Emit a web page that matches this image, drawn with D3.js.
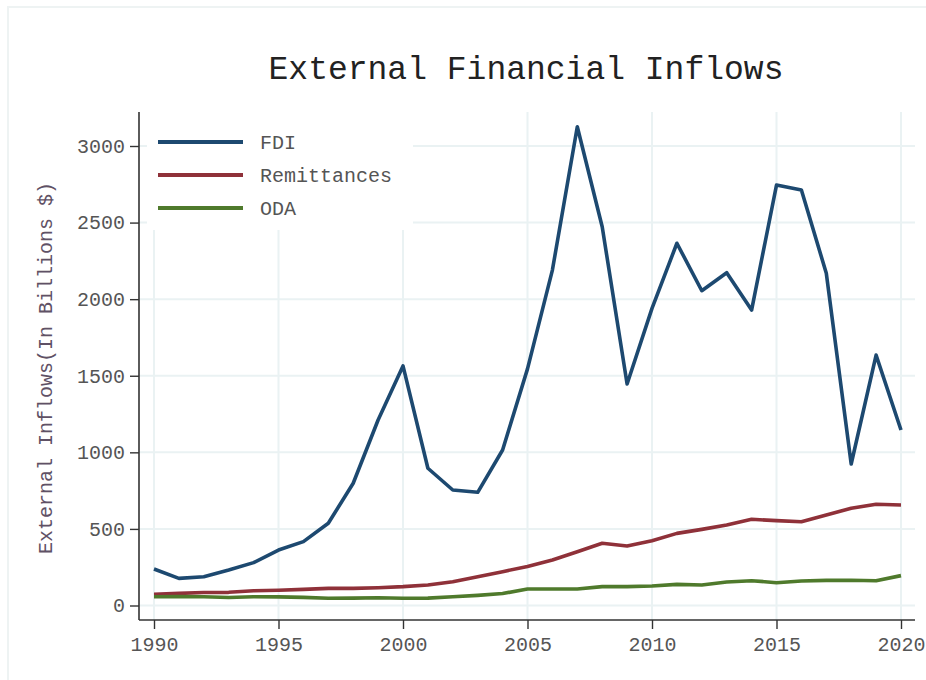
<!DOCTYPE html>
<html>
<head>
<meta charset="utf-8">
<script src="https://cdn.jsdelivr.net/npm/d3@7"></script>
<style>
  html, body { margin: 0; padding: 0; background: #fff; }
  svg { display: block; }
  text { font-family: "Liberation Mono", "DejaVu Sans Mono", monospace; }
</style>
</head>
<body>
<svg id="chart" width="926" height="680"></svg>
<script>
const years = d3.range(1990, 2021);
const fdi = [238, 177, 188, 232, 280, 362, 417, 537, 798, 1211, 1564, 896, 754, 739, 1015,
  1545, 2190, 3126, 2473, 1446, 1940, 2365, 2055, 2173, 1929, 2745, 2713, 2169, 924, 1635, 1146];
const remittances = [73, 79, 85, 86, 96, 100, 105, 112, 112, 116, 123, 134, 155, 188, 221,
  255, 297, 351, 406, 388, 423, 471, 497, 526, 563, 554, 547, 591, 635, 661, 656];
const oda = [57, 58, 57, 52, 57, 56, 53, 47, 48, 51, 47, 48, 57, 66, 78,
  108, 108, 108, 123, 123, 127, 138, 134, 153, 162, 149, 160, 164, 165, 162, 195];
const seriesNames = ["FDI", "Remittances", "ODA"];
const seriesColors = ["#1d4970", "#8f3139", "#4f7a2c"];
const seriesValues = [fdi, remittances, oda];
const yTicks = [0, 500, 1000, 1500, 2000, 2500, 3000];
const xTicks = [1990, 1995, 2000, 2005, 2010, 2015, 2020];

const svg = d3.select("#chart");

// outer light frame
svg.append("rect").attr("x", 8).attr("y", 7).attr("width", 940).attr("height", 700)
  .attr("fill", "none").attr("stroke", "#eef3f3").attr("stroke-width", 2);

const x = d3.scaleLinear().domain([1990, 2020]).range([154, 901]);
const y = d3.scaleLinear().domain([0, 3000]).range([605.5, 146]);
const plotLeft = 139, plotRight = 915, plotTop = 112, plotBottom = 620;

// grid
const grid = svg.append("g");
grid.selectAll("line.h").data(yTicks).join("line")
  .attr("x1", plotLeft).attr("x2", plotRight)
  .attr("y1", d => y(d)).attr("y2", d => y(d))
  .attr("stroke", "#eaf2f3").attr("stroke-width", 2);
grid.selectAll("line.v").data(xTicks).join("line")
  .attr("x1", d => x(d)).attr("x2", d => x(d))
  .attr("y1", plotTop).attr("y2", plotBottom)
  .attr("stroke", "#eaf2f3").attr("stroke-width", 2);

// legend background
svg.append("rect").attr("x", 147).attr("y", 112).attr("width", 266).attr("height", 118)
  .attr("fill", "#fff");

// lines
const line = d3.line().x((d, i) => x(years[i])).y(d => y(d));
seriesValues.forEach((vals, k) => {
  svg.append("path").datum(vals)
    .attr("d", line)
    .attr("fill", "none")
    .attr("stroke", seriesColors[k])
    .attr("stroke-width", 3.6)
    .attr("stroke-linejoin", "round");
});

// axes
const yAxis = d3.axisLeft(y).tickValues(yTicks).tickSize(9).tickPadding(5).tickFormat(d3.format("d"));
const gy = svg.append("g").attr("transform", `translate(${plotLeft},0)`).call(yAxis);
gy.select(".domain").attr("d", `M0,${plotTop}V${plotBottom}`).attr("stroke", "#333").attr("stroke-width", 1.6);
gy.selectAll(".tick line").attr("stroke", "#333").attr("stroke-width", 1.4);
gy.selectAll(".tick text").attr("font-size", 20).attr("fill", "#555")
  .attr("font-family", "Liberation Mono, monospace");

const xAxis = d3.axisBottom(x).tickValues(xTicks).tickSize(9).tickPadding(8).tickFormat(d3.format("d"));
const gx = svg.append("g").attr("transform", `translate(0,${plotBottom})`).call(xAxis);
gx.select(".domain").attr("d", `M${plotLeft},0H${plotRight}`).attr("stroke", "#333").attr("stroke-width", 1.6);
gx.selectAll(".tick line").attr("stroke", "#333").attr("stroke-width", 1.4);
gx.selectAll(".tick text").attr("font-size", 20).attr("fill", "#555")
  .attr("font-family", "Liberation Mono, monospace");

// legend
const leg = svg.append("g");
seriesNames.forEach((name, k) => {
  const ly = 142 + k * 33;
  leg.append("line").attr("x1", 158).attr("x2", 243).attr("y1", ly).attr("y2", ly)
    .attr("stroke", seriesColors[k]).attr("stroke-width", 4);
  leg.append("text").attr("x", 260).attr("y", ly).attr("dy", "0.35em")
    .attr("font-size", 20).attr("fill", "#555").text(name);
});

// title
svg.append("text").attr("x", 526).attr("y", 79).attr("text-anchor", "middle")
  .attr("font-size", 33).attr("fill", "#222").text("External Financial Inflows");

// y label
svg.append("text").attr("transform", "translate(52,368) rotate(-90)")
  .attr("text-anchor", "middle").attr("font-size", 20).attr("fill", "#5f5165")
  .text("External Inflows(In Billions $)");
</script>
</body>
</html>
